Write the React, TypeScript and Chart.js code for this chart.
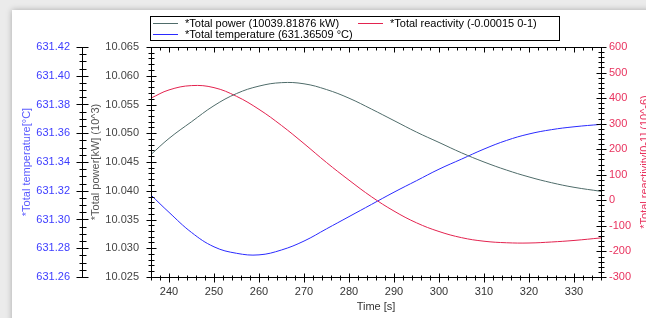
import React, { useEffect, useRef } from 'react';
import { Chart, registerables } from 'chart.js';

Chart.register(...registerables);

// ---- data ----
const times = [236, 240, 245, 250, 255, 260, 265, 270, 275, 280, 285, 290, 295, 300, 305, 310, 315, 320, 325, 330, 336];
const powerValues = [10.0463, 10.0491, 10.052, 10.0548, 10.0569, 10.0582, 10.0588, 10.0586, 10.0576, 10.0561, 10.0542, 10.0522, 10.0502, 10.0484, 10.0466, 10.045, 10.0436, 10.0424, 10.0414, 10.0406, 10.0399];
const temperatureValues = [631.317, 631.305, 631.291, 631.281, 631.2765, 631.2754, 631.2788, 631.285, 631.2935, 631.302, 631.3105, 631.319, 631.327, 631.335, 631.342, 631.349, 631.355, 631.3595, 631.3625, 631.3645, 631.3662];
const reactivityValues = [400, 432, 449, 441, 407, 356, 293, 222, 148, 79, 14, -42, -88, -122, -146, -160, -166, -167, -163, -157, -147];

const timeTicks = [240, 250, 260, 270, 280, 290, 300, 310, 320, 330];
const timeTickLabels = ['240', '250', '260', '270', '280', '290', '300', '310', '320', '330'];
const powerTicks = [10.025, 10.03, 10.035, 10.04, 10.045, 10.05, 10.055, 10.06, 10.065];
const powerTickLabels = ['10.025', '10.030', '10.035', '10.040', '10.045', '10.050', '10.055', '10.060', '10.065'];
const temperatureTicks = [631.26, 631.28, 631.3, 631.32, 631.34, 631.36, 631.38, 631.4, 631.42];
const temperatureTickLabels = ['631.26', '631.28', '631.30', '631.32', '631.34', '631.36', '631.38', '631.40', '631.42'];
const reactivityTicks = [-300, -200, -100, 0, 100, 200, 300, 400, 500, 600];
const reactivityTickLabels = ['-300', '-200', '-100', '0', '100', '200', '300', '400', '500', '600'];

const seriesNames = ['*Total power', '*Total reactivity', '*Total temperature'];
const legendTexts = ['*Total power (10039.81876 kW)', '*Total reactivity (-0.00015 0-1)', '*Total temperature (631.36509 °C)'];
const axisTitles = ['Time [s]', '*Total power[kW] (10^3)', '*Total temperature[°C]', '*Total reactivity[0-1] (10^-6)'];

// ---- styles ----
const FAMILY = 'Liberation Sans, Arial, sans-serif';
const FONT = { family: FAMILY, size: 11 };
const POWER_COLOR = '#4f6c6a';
const TEMP_COLOR = '#2a2aff';
const REACT_COLOR = '#e3234f';
const TEMP_LABEL = '#3d3dff';
const REACT_LABEL = '#e8325e';

function stepValues(min: number, max: number, step: number): number[] {
  const out: number[] = [];
  const k0 = Math.ceil(min / step - 1e-6);
  const k1 = Math.floor(max / step + 1e-6);
  for (let k = k0; k <= k1; k++) out.push(k * step);
  return out;
}
const isMajor = (v: number, majors: number[], step: number) => majors.some((m) => Math.abs(m - v) < step * 0.05);

const decorPlugin = {
  id: 'decor',
  afterDraw(chart: any) {
    const { ctx, chartArea: ca, scales } = chart;
    const px = (v: number) => Math.round(v) + 0.5;
    const L = px(ca.left), R = px(ca.right), T = px(ca.top), B = px(ca.bottom);
    ctx.save();
    ctx.strokeStyle = '#000';
    ctx.lineWidth = 1;
    ctx.beginPath();
    ctx.moveTo(L, T); ctx.lineTo(R, T); ctx.lineTo(R, B); ctx.lineTo(L, B); ctx.closePath();
    // x ticks (bottom and top)
    const xs = scales.x;
    for (const v of stepValues(xs.min, xs.max, 2)) {
      const mj = isMajor(v, timeTicks, 2);
      const x = px(xs.getPixelForValue(v));
      ctx.moveTo(x, B - (mj ? 4 : 2)); ctx.lineTo(x, B + (mj ? 5 : 3));
      ctx.moveTo(x, T); ctx.lineTo(x, T + (mj ? 5 : 3));
    }
    // power axis (left of plot)
    const yp = scales.yP;
    for (const v of stepValues(yp.min, yp.max, 0.001)) {
      const mj = isMajor(v, powerTicks, 0.001);
      const y = px(yp.getPixelForValue(v));
      ctx.moveTo(L - (mj ? 5 : 3), y); ctx.lineTo(L + (mj ? 5 : 3), y);
    }
    // temperature axis
    const yt = scales.yT;
    const xT = px(yt.right);
    ctx.moveTo(xT, T); ctx.lineTo(xT, B);
    for (const v of stepValues(yt.min, yt.max, 0.005)) {
      const mj = isMajor(v, temperatureTicks, 0.005);
      const y = px(yt.getPixelForValue(v));
      ctx.moveTo(xT - (mj ? 6 : 3), y); ctx.lineTo(xT + (mj ? 6 : 4), y);
    }
    // reactivity axis (right)
    const yr = scales.yR;
    for (const v of stepValues(yr.min, yr.max, 20)) {
      const mj = isMajor(v, reactivityTicks, 20);
      const y = px(yr.getPixelForValue(v));
      ctx.moveTo(R - (mj ? 5 : 3), y); ctx.lineTo(R + (mj ? 5 : 3), y);
    }
    ctx.stroke();

    // right axis title (reads bottom to top, partly cut by the window edge)
    ctx.save();
    ctx.font = `11px ${FAMILY}`;
    ctx.fillStyle = REACT_LABEL;
    ctx.translate(645, (ca.top + ca.bottom) / 2);
    ctx.rotate(-Math.PI / 2);
    ctx.textAlign = 'center';
    ctx.textBaseline = 'middle';
    ctx.fillText(axisTitles[3], 0, 0);
    ctx.restore();

    // legend
    ctx.beginPath();
    ctx.strokeStyle = '#000';
    ctx.strokeRect(150.5, 16.5, 409, 24);
    ctx.font = `11px ${FAMILY}`;
    ctx.textAlign = 'left';
    ctx.textBaseline = 'middle';
    const items = [
      { color: POWER_COLOR, text: legendTexts[0], x: 153, y: 23 },
      { color: REACT_COLOR, text: legendTexts[1], x: 358, y: 23 },
      { color: TEMP_COLOR, text: legendTexts[2], x: 153, y: 34 },
    ];
    for (const it of items) {
      ctx.fillStyle = it.color;
      ctx.fillRect(it.x, it.y, 25, 1);
      ctx.fillStyle = '#000';
      ctx.fillText(it.text, it.x + 32, it.y + 1);
    }
    ctx.restore();
  },
};

export default function App() {
  const ref = useRef<HTMLCanvasElement | null>(null);

  useEffect(() => {
    if (!ref.current) return;
    const mk = (vals: number[]) => times.map((t, i) => ({ x: t, y: vals[i] }));
    const chart = new Chart(ref.current, {
      type: 'line',
      data: {
        datasets: [
          { label: seriesNames[0], data: mk(powerValues), yAxisID: 'yP', borderColor: POWER_COLOR },
          { label: seriesNames[1], data: mk(reactivityValues), yAxisID: 'yR', borderColor: REACT_COLOR },
          { label: seriesNames[2], data: mk(temperatureValues), yAxisID: 'yT', borderColor: TEMP_COLOR },
        ],
      },
      options: {
        responsive: false,
        maintainAspectRatio: false,
        animation: false,
        layout: { padding: { left: 0, right: 0, top: 47, bottom: 0 } },
        elements: {
          line: { borderWidth: 1, tension: 0.4, fill: false },
          point: { radius: 0, hoverRadius: 0 },
        },
        plugins: { legend: { display: false }, tooltip: { enabled: false } },
        scales: {
          x: {
            type: 'linear',
            position: 'bottom',
            min: 236,
            max: 336,
            afterBuildTicks: (s: any) => { s.ticks = timeTicks.map((v) => ({ value: v })); },
            afterFit: (s: any) => { s.height = 41; },
            ticks: { font: FONT, color: '#333', padding: 8, maxRotation: 0, autoSkip: false, callback: (_v: any, i: number) => timeTickLabels[i] },
            grid: { display: false, drawTicks: false },
            border: { display: false },
            title: { display: true, text: axisTitles[0], font: FONT, color: '#333', padding: { top: 0, bottom: 4 } },
          },
          yT: {
            type: 'linear',
            position: 'left',
            weight: 2,
            min: 631.26,
            max: 631.42,
            afterBuildTicks: (s: any) => { s.ticks = temperatureTicks.map((v) => ({ value: v })); },
            afterFit: (s: any) => { s.width = 82; },
            ticks: { font: FONT, color: TEMP_LABEL, padding: 12, autoSkip: false, callback: (_v: any, i: number) => temperatureTickLabels[i] },
            grid: { display: false, drawTicks: false },
            border: { display: false },
            title: { display: true, text: axisTitles[2], font: FONT, color: '#5a5aff', padding: { top: 20, bottom: 0 } },
          },
          yP: {
            type: 'linear',
            position: 'left',
            weight: 1,
            min: 10.025,
            max: 10.065,
            afterBuildTicks: (s: any) => { s.ticks = powerTicks.map((v) => ({ value: v })); },
            afterFit: (s: any) => { s.width = 69; },
            ticks: { font: FONT, color: '#444', padding: 12, autoSkip: false, callback: (_v: any, i: number) => powerTickLabels[i] },
            grid: { display: false, drawTicks: false },
            border: { display: false },
            title: { display: true, text: axisTitles[1], font: FONT, color: '#555', padding: { top: 7, bottom: 0 } },
          },
          yR: {
            type: 'linear',
            position: 'right',
            min: -300,
            max: 600,
            afterBuildTicks: (s: any) => { s.ticks = reactivityTicks.map((v) => ({ value: v })); },
            afterFit: (s: any) => { s.width = 51; },
            ticks: { font: FONT, color: REACT_LABEL, padding: 8, autoSkip: false, callback: (_v: any, i: number) => reactivityTickLabels[i] },
            grid: { display: false, drawTicks: false },
            border: { display: false },
            title: { display: false },
          },
        },
      },
      plugins: [decorPlugin],
    } as any);
    return () => chart.destroy();
  }, []);

  return (
    <div style={{ position: 'fixed', left: 0, top: 0, width: 646, height: 318, overflow: 'hidden', background: '#ebebeb' }}>
      <div style={{ position: 'absolute', left: 12, top: 10, width: 680, height: 340, background: '#fff', boxShadow: '0 0 6px rgba(0,0,0,0.28)' }} />
      <canvas ref={ref} width={652} height={318} style={{ position: 'absolute', left: 0, top: 0 }} />
    </div>
  );
}
